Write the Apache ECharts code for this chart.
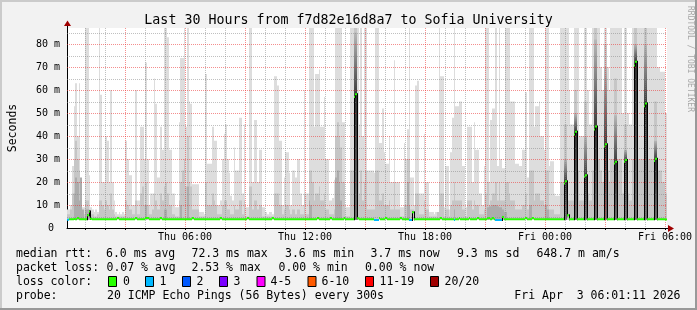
<!DOCTYPE html>
<html><head><meta charset="utf-8">
<script src="https://cdn.jsdelivr.net/npm/echarts@6/dist/echarts.min.js"></script>
<style>html,body{margin:0;padding:0;background:#f2f2f2;}#c{width:697px;height:310px;}</style>
</head><body><div id="c"></div>
<script>
// ---------- data ----------
const startHour = 0.1;          // hours after Thu 00:00 at the left edge
const stepHours = 5 / 60;       // one SmokePing step = 300 s
const pingMin = 3.6;            // ms, lowest ping (bottom of the smoke)
const yMax = 87;

// highest ping per step (light smoke top), ms
const maxPing = [
 8,8,10,27,53,63,40,63,14,9, 9,87,87,23,9,8,7,8,7,87,
 58,20,20,40,38,20,60,20,12,7, 6,7,6,7,6,38,30,23,23,10,
 10,60,12,12,44,44,30,72,30,10, 15,15,65,54,22,22,44,34,87,87,
 83,34,34,15,15,9,9,46,74,74, 87,44,87,55,54,19,19,19,19,7,
 7,7,6,67,28,28,28,44,38,38, 10,10,12,30,41,45,30,24,14,12,
 35,25,25,48,48,15,45,9,9,87, 87,20,47,47,20,34,34,9,9,7,
 6,7,7,6,66,66,62,38,38,10, 22,33,33,24,10,25,25,22,30,30,
 15,10,60,15,15,87,87,87,44,67, 67,69,44,44,57,30,30,12,12,13,
 21,87,87,87,87,46,46,9,9,9, 87,87,87,87,87,45,87,40,87,87,
 25,25,25,25,24,87,87,37,37,52, 33,28,28,40,20,20,73,20,20,20,
 9,9,37,30,43,87,22,22,10,62, 64,15,15,15,41,20,20,7,7,7,
 6,7,7,87,66,66,9,27,27,8, 33,48,87,53,53,55,55,27,27,9,
 44,44,44,20,46,34,34,15,15,10, 27,87,87,20,47,52,52,87,27,87,
 30,26,26,87,87,87,55,55,55,28, 28,27,27,34,34,59,22,87,87,87,
 44,53,53,55,40,40,34,87,87,27, 29,29,15,14,14,14,87,87,87,87,
 87,60,45,45,87,87,87,40,40,40, 87,87,60,45,45,87,87,87,87,87,
 70,60,87,87,70,60,87,87,87,87, 87,87,87,50,87,87,50,45,45,87,
 87,87,87,87,87,87,87,87,87,87, 87,87,87,87,70,70,68,68,68,50
];

// middle pings per step (medium smoke top), ms
const midPing = [
 6,6,8,15,30,38,30,25,10,6, 6,12,12,8,6,6,5,5,6,12,
 12,10,8,12,10,8,15,8,6,5, 5,5,5,5,5,12,10,8,8,6,
 6,12,6,6,15,18,10,20,10,6, 6,8,15,12,8,8,15,12,18,20,
 15,10,10,6,6,5,5,12,20,25, 30,18,40,20,18,8,8,8,8,5,
 5,5,5,20,10,10,10,15,12,10, 6,6,6,10,12,12,8,8,6,6,
 10,8,8,12,12,6,12,5,5,18, 18,8,12,12,8,10,10,5,5,5,
 5,5,5,5,15,15,15,10,10,6, 8,10,10,8,6,8,8,6,8,8,
 6,6,15,6,6,25,25,20,12,15, 15,18,12,12,15,8,8,6,6,6,
 8,40,46,40,35,20,20,5,5,5, 25,25,87,87,30,15,25,12,20,25,
 8,8,8,8,8,25,25,12,12,15, 10,10,10,12,8,8,20,8,8,8,
 5,5,10,10,30,30,8,8,5,15, 15,6,6,6,12,8,8,5,5,5,
 5,5,10,20,15,15,5,8,8,5, 10,12,20,12,12,12,12,8,8,5,
 12,12,12,8,12,10,10,6,6,6, 8,15,20,10,12,15,15,20,12,20,
 12,12,12,20,20,15,12,12,12,8, 8,8,8,10,10,15,8,25,25,25,
 12,15,15,15,12,12,10,25,25,8, 8,8,6,6,6,6,20,20,45,45,
 12,12,12,12,60,60,25,12,12,12, 55,55,15,12,12,25,87,87,30,30,
 25,20,80,80,25,20,30,30,65,65, 30,30,30,15,45,45,15,12,12,30,
 87,87,30,30,30,30,87,87,30,30, 30,30,55,55,25,25,25,20,20,15
];

// dark smoke tops where present: [step, ms]
const darkPeaks = [
 [4,15],[5,22],[6,20],[7,12],[8,22],[9,8],[11,8],[12,8],[13,6],[47,10],[58,8],[59,8],
 [68,10],[72,18],[145,12],[146,10],[161,22],[162,25],[163,20],[164,12],[204,20],[205,10],
 [232,8],[252,9],[253,9.5],[254,9.5],[255,10],[256,10],[257,10],[258,9.5],[259,9],[260,9],
 [261,8],[262,7],[263,7],[277,10],[278,10],[287,10],[288,8],
 [172,85],[173,85],[298,30],[299,30],[304,50],[305,50],[310,40],[311,40],[316,82],[317,82],
 [322,70],[323,70],[328,49],[329,49],[334,34],[335,34],[340,80],[341,80],[346,80],[347,80],
 [352,38],[353,38]
];

// median rtt per step, ms
const median = [
 3.6,3.8,3.8,3.8,3.9,3.8,4.3,3.8,3.8,3.8, 3.8,3.8,5.5,7.2,4.0,3.8,3.8,3.8,3.8,3.8,
 3.8,3.8,3.8,3.8,3.8,3.8,3.8,3.8,3.8,3.8, 4.3,3.8,3.8,3.8,3.8,3.8,3.8,3.8,3.8,3.8,
 3.8,4.3,3.8,3.8,3.8,3.8,3.8,4.3,4.3,3.8, 3.8,3.8,3.8,3.8,3.8,3.8,4.3,3.8,3.8,3.8,
 3.8,3.8,3.8,3.8,3.8,3.8,3.8,3.8,3.8,3.8, 3.8,3.8,3.8,3.8,3.8,4.3,3.8,3.8,3.8,3.8,
 3.8,3.8,3.8,3.8,3.8,3.8,3.8,3.8,3.8,3.8, 3.8,3.8,4.3,3.8,3.8,3.8,3.8,3.8,3.8,3.8,
 3.8,3.8,3.8,3.8,3.8,3.8,3.8,3.8,4.3,3.8, 3.8,3.8,3.8,3.8,3.8,3.8,3.8,3.8,3.8,3.8,
 3.8,3.8,3.8,4.3,3.8,3.8,3.8,3.8,3.8,3.8, 3.8,3.8,3.8,3.8,3.8,3.8,3.8,3.8,3.8,3.8,
 3.8,3.8,3.8,3.8,3.8,3.8,3.8,3.8,3.8,3.8, 4.3,3.8,3.8,3.8,3.8,3.8,3.8,3.8,4.3,3.8,
 3.8,3.8,3.8,3.8,3.8,3.8,4.3,3.8,3.8,3.8, 3.8,3.8,57.0,58.2,4.2,3.8,3.8,3.8,3.8,3.8,
 3.8,3.8,3.8,3.8,3.5,3.5,3.5,4.3,3.8,3.8, 3.8,4.3,3.8,3.8,3.8,3.8,3.8,3.8,3.8,3.8,
 4.3,3.8,3.8,3.8,3.8,3.5,3.5,6.8,3.8,3.8, 3.8,3.8,3.8,3.8,3.8,3.8,3.8,3.8,3.8,3.8,
 3.8,3.8,3.8,3.8,4.3,3.8,3.8,3.8,3.8,3.8, 3.8,3.8,3.5,3.8,3.8,4.3,3.8,3.8,3.8,3.8,
 3.8,4.3,3.8,3.8,3.8,3.8,4.3,3.8,3.8,3.8, 3.8,3.8,4.2,4.3,3.8,4.3,3.8,3.5,3.5,3.5,
 3.5,4.8,3.8,3.8,3.8,3.8,3.8,3.8,3.8,3.8, 3.8,3.8,3.8,3.8,3.8,4.3,3.8,3.8,3.8,4.3,
 3.8,3.8,3.8,3.8,3.8,3.8,3.8,3.8,3.8,3.8, 3.8,3.8,3.8,3.8,3.8,3.8,3.8,3.8,19.4,20.3,
 5.5,3.8,3.8,3.8,40.7,41.9,3.8,3.8,3.8,3.8, 22.3,22.9,3.8,3.8,3.8,3.8,42.9,44.1,3.8,3.8,
 3.8,3.8,35.4,36.4,3.8,3.8,3.8,3.8,28.1,28.8, 3.8,3.8,3.8,3.8,28.8,29.6,3.8,3.8,3.8,3.8,
 70.7,72.3,3.8,3.8,3.8,3.8,53.0,54.2,3.8,3.8, 3.8,3.8,29.1,30.1,3.8,3.8,3.8,3.8,3.8,3.7
];

// steps with packet loss: [step, loss-colour index]
const lossSteps = [[0,1],[184,1],[185,1],[186,1],[205,1],[206,1],[232,1],[257,1],[258,1],[259,1],[260,1]];

const lossColors = ['#26ff00','#00b8ff','#0059ff','#7a00ff','#ff00ff','#ff5a00','#ff0000','#a00000'];
const lossLabels = ['0','1','2','3','4-5','6-10','11-19','20/20'];

const xLabelHours = [6,12,18,24,30];
const xLabelText = ['Thu 06:00','Thu 12:00','Thu 18:00','Fri 00:00','Fri 06:00'];
const gridHours = [1,2,3,4,5,6,7,8,9,10,11,12,13,14,15,16,17,18,19,20,21,22,23,24,25,26,27,28,29,30];
const gridMajorHours = [3,6,9,12,15,18,21,24,27,30];
const yTicks = [0,10,20,30,40,50,60,70,80];
const gridValues = [5,10,15,20,25,30,35,40,45,50,55,60,65,70,75,80,85];
const gridMajorValues = [10,20,30,40,50,60,70,80];

const statsRtt = [['median rtt:',16],['6.0 ms avg',106],['72.3 ms max',191.5],['3.6 ms min',285],['3.7 ms now',370.5],['9.3 ms sd',457],['648.7 m am/s',536.5]];
const statsLoss = [['packet loss:',16],['0.07 % avg',106.5],['2.53 % max',191.5],['0.00 % min',278.5],['0.00 % now',365]];
const lossBoxX = [108,145,182,219,256.5,307.5,365,430];
const lossLabelX = [123,159.5,196.5,233.5,270.5,321.5,379.5,444.5];

// ---------- chart ----------
const darkTop = {}; darkPeaks.forEach(([s, v]) => { darkTop[s] = v; });
const lossAt = {}; lossSteps.forEach(([s, l]) => { lossAt[s] = l; });
const MONO = '"DejaVu Sans Mono", monospace';

function stepX(api, i) {
  const t0 = startHour + i * stepHours;
  return [Math.round(api.coord([t0, 0])[0]), Math.round(api.coord([t0 + stepHours, 0])[0])];
}

function renderSmoke(params, api) {
  const i = api.value(2);
  const [xa, xb] = stepX(api, i);
  const w = xb - xa;
  const yOf = v => api.coord([startHour, v])[1];
  const mx = maxPing[i], md = Math.min(midPing[i], mx), med = median[i];
  const rect = (v0, v1, fill) => ({ type: 'rect', shape: { x: xa, y: yOf(v1), width: w, height: yOf(v0) - yOf(v1) }, style: { fill } });
  const ch = [rect(pingMin, mx, '#dddddd'), rect(pingMin, md, '#c6c6c6')];
  const dk = darkTop[i];
  if (dk != null) {
    if (med > 10) {
      ch.push(rect(med, dk, new echarts.graphic.LinearGradient(0, 0, 0, 1, [{ offset: 0, color: '#b8b8b8' }, { offset: 1, color: '#3c3c3c' }])));
      ch.push(rect(pingMin, med, new echarts.graphic.LinearGradient(0, 0, 0, 1, [{ offset: 0, color: '#2e2e2e' }, { offset: 1, color: '#6a6a6a' }])));
    } else {
      ch.push(rect(pingMin, dk, '#acacac'));
    }
  }
  return { type: 'group', children: ch };
}

function renderMedian(params, api) {
  const i = api.value(2);
  const [xa, xb] = stepX(api, i);
  const yOf = v => api.coord([startHour, v])[1];
  const y = yOf(median[i]);
  const ch = [];
  if (i > 0 && Math.abs(median[i] - median[i - 1]) > 1) {
    const yp = yOf(median[i - 1]);
    ch.push({ type: 'line', shape: { x1: xa + 0.5, y1: Math.max(yp, y) + 1, x2: xa + 0.5, y2: Math.min(yp, y) - 1 }, style: { stroke: '#000', lineWidth: 1 } });
  }
  ch.push({ type: 'rect', shape: { x: xa, y: y - 1, width: xb - xa, height: 2 }, style: { fill: lossColors[lossAt[i] || 0] } });
  return { type: 'group', children: ch };
}

function renderGrid(params, api) {
  const cs = params.coordSys;
  const kind = api.value(2), major = api.value(3);
  const stroke = major ? 'rgba(235,50,50,0.55)' : 'rgba(130,130,130,0.5)';
  let shape;
  if (kind === 0) {
    const x = Math.round(api.coord([api.value(0), 0])[0]) + 0.5;
    shape = { x1: x, y1: cs.y, x2: x, y2: cs.y + cs.height };
  } else {
    const y = Math.round(api.coord([startHour, api.value(1)])[1]) + 0.5;
    shape = { x1: cs.x, y1: y, x2: cs.x + cs.width, y2: y };
  }
  return { type: 'line', shape, style: { stroke, lineWidth: 1, lineDash: [1, 1] } };
}

const gridItems = [];
gridHours.forEach(h => gridItems.push([h, 0, 0, gridMajorHours.includes(h) ? 1 : 0]));
gridValues.forEach(v => gridItems.push([startHour, v, 1, gridMajorValues.includes(v) ? 1 : 0]));

const txt = (x, y, s, extra) => Object.assign({ type: 'text', x, y, silent: true,
  style: Object.assign({ text: s, font: '11.5px ' + MONO, fill: '#000', align: 'left', verticalAlign: 'middle', textAlign: 'left', textVerticalAlign: 'middle' }, extra || {}) });

const graphics = [
  { type: 'line', shape: { x1: 0, y1: 1, x2: 697, y2: 1 }, style: { stroke: '#cbcbcb', lineWidth: 2 } },
  { type: 'line', shape: { x1: 1, y1: 0, x2: 1, y2: 310 }, style: { stroke: '#cbcbcb', lineWidth: 2 } },
  { type: 'line', shape: { x1: 0, y1: 309, x2: 697, y2: 309 }, style: { stroke: '#999999', lineWidth: 2 } },
  { type: 'line', shape: { x1: 696, y1: 0, x2: 696, y2: 310 }, style: { stroke: '#999999', lineWidth: 2 } },
  { type: 'line', shape: { x1: 667, y1: 228.5, x2: 669, y2: 228.5 }, style: { stroke: '#000', lineWidth: 1 } },
  { type: 'line', shape: { x1: 67.5, y1: 28, x2: 67.5, y2: 25 }, style: { stroke: '#000', lineWidth: 1 } },
  { type: 'polygon', shape: { points: [[668, 225], [674, 228.5], [668, 232]] }, style: { fill: '#a00000' } },
  { type: 'polygon', shape: { points: [[64, 26], [67.5, 20.5], [71, 26]] }, style: { fill: '#a00000' } },
  txt(690, 59, 'RRDTOOL / TOBI OETIKER', { font: '8px ' + MONO, fill: '#a8a8a8', align: 'center', textAlign: 'center' }),
];
graphics[8].rotation = -Math.PI / 2;
statsRtt.forEach(([s, x]) => graphics.push(txt(x, 254, s)));
statsLoss.forEach(([s, x]) => graphics.push(txt(x, 268, s)));
graphics.push(txt(16, 282, 'loss color:'));
lossColors.forEach((c, k) => {
  graphics.push({ type: 'rect', shape: { x: lossBoxX[k] + 0.5, y: 276.5, width: 8, height: 10 }, style: { fill: c, stroke: '#000', lineWidth: 1 } });
  graphics.push(txt(lossLabelX[k], 282, lossLabels[k]));
});
graphics.push(txt(16, 296, 'probe:'));
graphics.push(txt(107, 296, '20 ICMP Echo Pings (56 Bytes) every 300s'));
graphics.push(txt(680.5, 296, 'Fri Apr  3 06:01:11 2026', { align: 'right', textAlign: 'right' }));

const chart = echarts.init(document.getElementById('c'), null, { renderer: 'canvas' });
chart.setOption({
  animation: false,
  backgroundColor: '#f2f2f2',
  title: { text: 'Last 30 Hours from f7d82e16d8a7 to Sofia University', left: 'center', top: 9,
    textStyle: { fontFamily: MONO, fontSize: 13.3, fontWeight: 'normal', color: '#000' } },
  grid: { left: 67, top: 28, width: 600, height: 200, show: true, backgroundColor: '#ffffff', borderWidth: 0,
    containLabel: false, outerBoundsMode: 'none' },
  xAxis: {
    type: 'value', min: startHour, max: startHour + 30,
    axisLine: { show: true, onZero: false, lineStyle: { color: '#000', width: 1 } },
    axisTick: { show: true, customValues: gridHours, length: 2, lineStyle: { color: '#000' } },
    axisLabel: { customValues: xLabelHours, margin: 4, fontFamily: MONO, fontSize: 10, color: '#000',
      formatter: v => xLabelText[xLabelHours.indexOf(Math.round(v))] || '' },
    splitLine: { show: false }
  },
  yAxis: {
    type: 'value', min: 0, max: yMax,
    name: 'Seconds', nameLocation: 'middle', nameGap: 48, nameRotate: 90,
    nameTextStyle: { fontFamily: MONO, fontSize: 11.5, color: '#000' },
    axisLine: { show: true, lineStyle: { color: '#000', width: 1 } },
    axisTick: { show: false },
    axisLabel: { customValues: yTicks, margin: 7, fontFamily: MONO, fontSize: 10, color: '#000',
      formatter: v => v === 0 ? '0 ' : v + ' m' },
    splitLine: { show: false }
  },
  series: [
    { type: 'custom', name: 'smoke', z: 2, clip: true, renderItem: renderSmoke, encode: { x: 0, y: 1 },
      data: maxPing.map((v, i) => [startHour + i * stepHours, v, i]) },
    { type: 'custom', name: 'grid', z: 3, renderItem: renderGrid, encode: { x: 0, y: 1 }, data: gridItems },
    { type: 'custom', name: 'median', z: 4, clip: true, renderItem: renderMedian, encode: { x: 0, y: 1 },
      data: median.map((v, i) => [startHour + i * stepHours, v, i]) }
  ],
  graphic: { elements: graphics }
});
</script></body></html>
